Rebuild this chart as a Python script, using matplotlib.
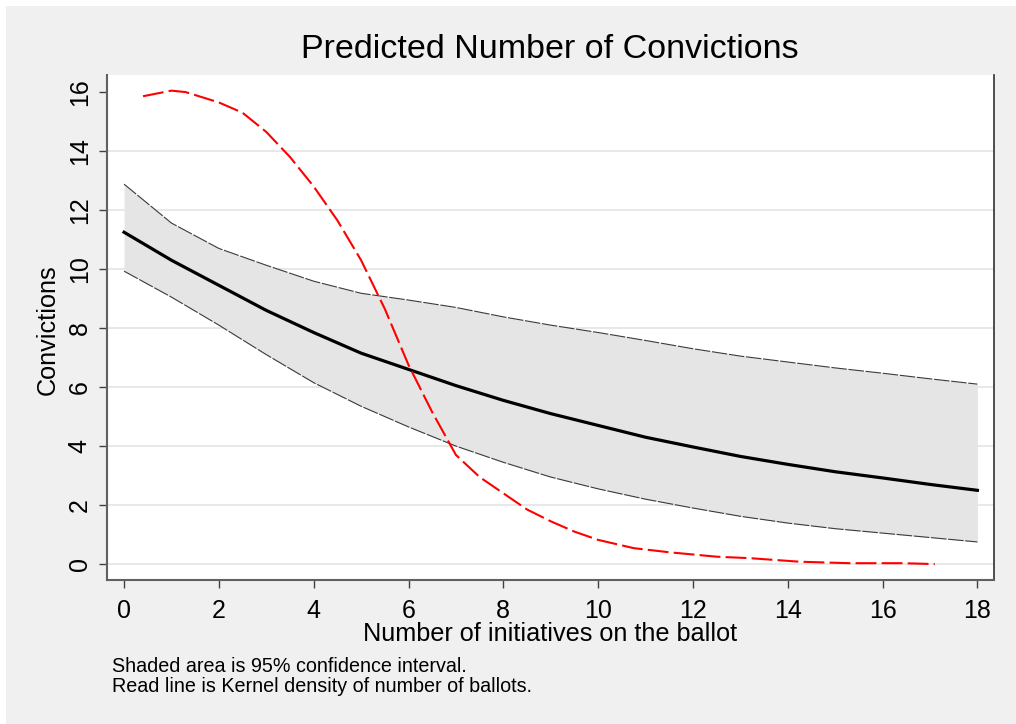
import matplotlib.pyplot as plt
from matplotlib.patches import Rectangle

# predicted convictions with 95% CI
x_init = list(range(0, 19))
conv_mean = [11.25, 10.3, 9.45, 8.6, 7.85, 7.15, 6.6, 6.05, 5.55, 5.1,
             4.7, 4.3, 3.97, 3.65, 3.38, 3.13, 2.92, 2.7, 2.5]
conv_upper = [12.88, 11.56, 10.7, 10.13, 9.59, 9.18, 8.95, 8.7, 8.38, 8.1,
              7.85, 7.58, 7.3, 7.05, 6.85, 6.65, 6.47, 6.28, 6.1]
conv_lower = [9.93, 9.05, 8.1, 7.1, 6.15, 5.35, 4.65, 4.0, 3.45, 2.95,
              2.55, 2.2, 1.9, 1.62, 1.39, 1.2, 1.05, 0.9, 0.75]

# kernel density of number of ballots (rescaled)
kd_x = [0.4, 1.0, 1.3, 2.0, 2.5, 3.0, 3.5, 4.0, 4.5, 5.0, 5.5, 6.0, 6.5,
        7.0, 7.5, 8.0, 8.5, 9.0, 9.5, 10.0, 10.75, 11.5, 12.5, 13.2,
        14.25, 15.3, 16.4, 17.1]
kd_y = [15.86, 16.05, 16.0, 15.65, 15.3, 14.65, 13.8, 12.8, 11.65, 10.3,
        8.65, 6.75, 5.15, 3.7, 2.95, 2.4, 1.85, 1.45, 1.1, 0.82, 0.54, 0.4,
        0.25, 0.2, 0.08, 0.03, 0.03, 0.0]

xticks = list(range(0, 19, 2))
yticks = list(range(0, 17, 2))

plt.rcParams['font.family'] = ['Liberation Sans', 'DejaVu Sans']

fig = plt.figure(figsize=(10.16, 7.24), dpi=100)
fig.patch.set_facecolor('white')
# stata-like gray graph region
fig.patches.append(Rectangle((6/1016, 0), 1 - 6/1016, 1 - 6/724,
                             transform=fig.transFigure, facecolor='#f0f0f0',
                             edgecolor='none', zorder=-10))

ax = fig.add_axes([107/1016, 1 - 580/724, 887/1016, 505/724])
ax.set_facecolor('white')

for yv in yticks[:-1]:
    ax.axhline(yv, color='#e6e6e6', lw=1.3, zorder=0)

ax.fill_between(x_init, conv_lower, conv_upper, color='#e5e5e5', lw=0, zorder=1)
ax.plot(x_init, conv_upper, color='#3a3a3a', lw=0.8, dashes=(14, 1.5), zorder=2)
ax.plot(x_init, conv_lower, color='#3a3a3a', lw=0.8, dashes=(14, 1.5), zorder=2)
ax.plot(x_init, conv_mean, color='black', lw=2.3, zorder=3)
ax.plot(kd_x, kd_y, color='red', lw=1.5, dashes=(10, 2.5), zorder=4)

ax.set_xlim(-0.36, 18.35)
ax.set_ylim(-0.54, 16.58)
ax.set_xticks(xticks)
ax.set_yticks(yticks)
ax.tick_params(axis='both', length=6, width=1, color='#404040', labelsize=18, pad=5)
ax.tick_params(axis='x', pad=8)
for lab in ax.get_yticklabels():
    lab.set_rotation(90)
    lab.set_va('center')

ax.spines['top'].set_visible(False)
ax.spines['left'].set_color('#606060')
ax.spines['left'].set_linewidth(1.5)
ax.spines['bottom'].set_color('#606060')
ax.spines['bottom'].set_linewidth(1.5)
ax.spines['right'].set_color('#303030')
ax.spines['right'].set_linewidth(1.2)

fig.text(550/1016, 1 - 50/724, 'Predicted Number of Convictions', ha='center',
         va='center', fontsize=24.5)
fig.text(550/1016, 1 - 634/724, 'Number of initiatives on the ballot', ha='center',
         va='center', fontsize=18.2)
fig.text(48/1016, 1 - 330/724, 'Convictions', ha='center', va='center',
         rotation=90, fontsize=18.2)
fig.text(112/1016, 1 - 666/724, 'Shaded area is 95% confidence interval.',
         ha='left', va='center', fontsize=14.2)
fig.text(112/1016, 1 - 686/724, 'Read line is Kernel density of number of ballots.',
         ha='left', va='center', fontsize=14.2)

fig.savefig('out.png', dpi=100)
